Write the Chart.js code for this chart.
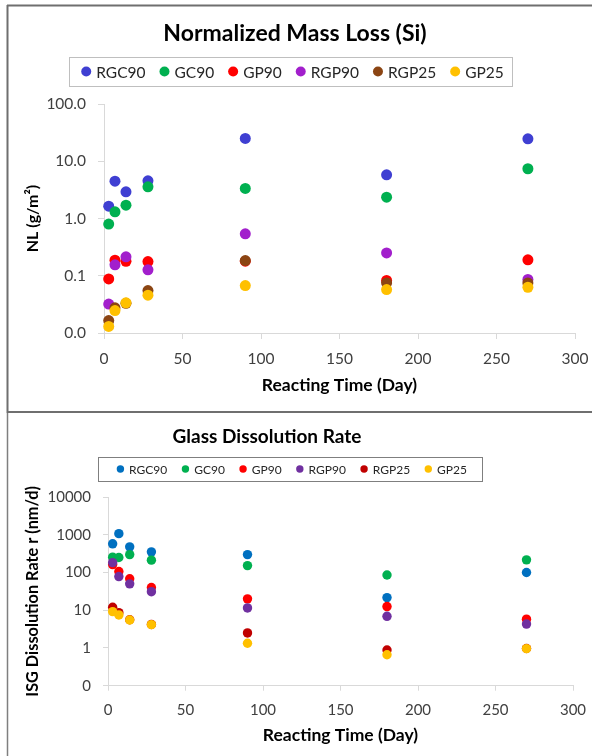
<!DOCTYPE html>
<html><head><meta charset="utf-8">
<script src="https://cdn.jsdelivr.net/npm/chart.js@4.4.1/dist/chart.umd.min.js"></script>
<style>
html,body{margin:0;padding:0;background:#fff;}
#wrap{position:relative;width:592px;height:756px;overflow:hidden;}
canvas{position:absolute;left:0;}
#c1{top:0}
#c2{top:413px}
</style></head><body>
<div id="wrap"><canvas id="c1" width="592" height="413"></canvas><canvas id="c2" width="592" height="343"></canvas></div>
<script>
const FONT = 'Lato, "Open Sans", sans-serif';

// ---------- data ----------
const days = [3, 7, 14, 28, 90, 180, 270];
const seriesNames = ['RGC90', 'GC90', 'GP90', 'RGP90', 'RGP25', 'GP25'];
const topColors = ['#3f3fd2', '#00b050', '#ff0000', '#a21fcc', '#8b4513', '#ffc000'];
const bottomColors = ['#0070c0', '#00b050', '#ff0000', '#7030a0', '#c00000', '#ffc000'];

// Normalized mass loss (g/m2)
const nlRGC90 = [1.64, 4.49, 2.93, 4.56, 25.0, 5.8, 24.7];
const nlGC90  = [0.80, 1.31, 1.71, 3.58, 3.35, 2.36, 7.4];
const nlGP90  = [0.088, 0.187, 0.179, 0.177, 0.18, 0.083, 0.19];
const nlRGP90 = [0.032, 0.155, 0.214, 0.127, 0.54, 0.25, 0.086];
const nlRGP25 = [0.0165, 0.0275, 0.033, 0.055, 0.184, 0.075, 0.075];
const nlGP25  = [0.013, 0.0247, 0.0336, 0.0457, 0.0674, 0.0574, 0.063];

// Glass dissolution rate (nm/d)
const rRGC90 = [575, 1070, 478, 352, 298, 21.6, 100];
const rGC90  = [255, 250, 298, 212, 152, 86, 216];
const rGP90  = [162, 106, 68, 40, 20, 12.5, 5.8];
const rRGP90 = [183, 78, 50, 31, 11.5, 6.9, 4.3];
const rRGP25 = [12, 8.6, 5.6, 4.2, 2.5, 0.885, 0.97];
const rGP25  = [9.2, 7.5, 5.5, 4.15, 1.33, 0.66, 0.96];

const topTickValues = [0.01, 0.1, 1, 10, 100];
const topTickLabels = ['0.0', '0.1', '1.0', '10.0', '100.0'];
const botTickValues = [0.1, 1, 10, 100, 1000, 10000];
const botTickLabels = ['0', '1', '10', '100', '1000', '10000'];
const xTickValues = [0, 50, 100, 150, 200, 250, 300];

// ---------- helpers ----------
function toPoints(arr) { return days.map((d, i) => ({x: d, y: arr[i]})); }

const deco = {
  id: 'deco',
  afterDraw(chart, args, o) {
    const ctx = chart.ctx;
    ctx.save();
    // frame
    ctx.strokeStyle = o.frameColor;
    ctx.lineWidth = o.frameWidth;
    ctx.beginPath();
    o.frame.forEach(seg => { ctx.moveTo(seg[0], seg[1]); ctx.lineTo(seg[2], seg[3]); });
    ctx.stroke();
    // title
    ctx.fillStyle = '#000';
    ctx.font = 'bold ' + o.titleSize + 'px ' + FONT;
    ctx.textAlign = 'center';
    ctx.textBaseline = 'middle';
    ctx.fillText(o.title, o.titleX, o.titleY);
    // legend
    const L = o.legend;
    ctx.strokeStyle = L.boxColor;
    ctx.lineWidth = 1;
    ctx.strokeRect(L.box[0] + 0.5, L.box[1] + 0.5, L.box[2] - L.box[0], L.box[3] - L.box[1]);
    ctx.font = L.size + 'px ' + FONT;
    const ds = chart.data.datasets;
    const widths = ds.map(d => L.r * 2 + L.gap + ctx.measureText(d.label).width);
    const total = widths.reduce((a, b) => a + b, 0) + L.spacing * (ds.length - 1);
    let x = L.center - total / 2;
    const cy = (L.box[1] + L.box[3]) / 2;
    ctx.textAlign = 'left';
    ds.forEach((d, i) => {
      ctx.fillStyle = d.backgroundColor;
      ctx.beginPath();
      ctx.arc(x + L.r, cy, L.r, 0, Math.PI * 2);
      ctx.fill();
      ctx.fillStyle = L.color;
      ctx.fillText(d.label, x + L.r * 2 + L.gap, cy + 1);
      x += widths[i] + L.spacing;
    });
    ctx.restore();
  }
};

function makeChart(id, series, colors, radius, yTicks, yLabels, yMin, yMax, yTitle, geo, decoOpts) {
  const datasets = series.map((arr, i) => ({
    label: seriesNames[i],
    data: toPoints(arr),
    order: -i,               // later series drawn on top, as in the original
    backgroundColor: colors[i],
    borderColor: colors[i],
    pointRadius: radius,
    pointHoverRadius: radius,
    pointBorderWidth: 0,
    showLine: false,
    clip: false
  }));
  const axisGrey = '#d9d9d9';
  return new Chart(document.getElementById(id), {
    type: 'scatter',
    data: {datasets},
    plugins: [deco],
    options: {
      responsive: false,
      animation: false,
      events: [],
      layout: {padding: geo.padding},
      plugins: {legend: {display: false}, title: {display: false}, tooltip: {enabled: false}, deco: decoOpts},
      scales: {
        x: {
          type: 'linear', min: 0, max: 300,
          afterBuildTicks: s => { s.ticks = xTickValues.map(v => ({value: v})); },
          afterFit: s => { s.height = geo.xHeight; s.paddingLeft = 0; s.paddingRight = 0; },
          ticks: {font: {family: FONT, size: geo.tickSize}, color: '#404040', padding: geo.xPad, autoSkip: false, maxRotation: 0},
          grid: {drawOnChartArea: false, drawTicks: true, tickLength: geo.tickLen, color: axisGrey},
          border: {color: axisGrey, width: 1},
          title: {display: true, text: 'Reacting Time (Day)', color: '#000', font: {family: FONT, size: geo.xTitleSize, weight: 'bold'}, padding: {top: 0, bottom: 0}}
        },
        y: {
          type: 'logarithmic', min: yMin, max: yMax,
          afterBuildTicks: s => { s.ticks = yTicks.map(v => ({value: v})); },
          afterFit: s => { s.width = geo.yWidth; s.paddingTop = 0; s.paddingBottom = 0; },
          ticks: {font: {family: FONT, size: geo.tickSize}, color: '#404040', padding: geo.yPad, autoSkip: false,
                  callback: v => yLabels[yTicks.indexOf(v)]},
          grid: {drawOnChartArea: false, drawTicks: true, tickLength: geo.tickLen, color: axisGrey},
          border: {color: axisGrey, width: 1},
          title: {display: true, text: yTitle, color: '#000', font: {family: FONT, size: geo.yTitleSize, weight: 'bold'}, padding: {top: 0, bottom: 0}}
        }
      }
    }
  });
}

// top chart: plot area x 104..575, y 104..333
makeChart('c1', [nlRGC90, nlGC90, nlGP90, nlRGP90, nlRGP25, nlGP25], topColors, 5.5,
  topTickValues, topTickLabels, 0.01, 100, 'NL (g/m²)',
  {padding: {left: 23.4, right: 17, top: 104, bottom: 17.5}, yWidth: 80.6, xHeight: 62.5,
   tickSize: 15.5, xTitleSize: 17.5, yTitleSize: 16, tickLen: 6, xPad: 11, yPad: 12},
  {frame: [[7.5, 5, 7.5, 413], [7, 5.5, 600, 5.5], [7, 412, 600, 412]], frameColor: '#6f6f6f', frameWidth: 2,
   title: 'Normalized Mass Loss (Si)', titleSize: 23, titleX: 295, titleY: 34,
   legend: {box: [69, 57, 512, 86], center: 292.5, boxColor: '#bfbfbf', size: 15.5, r: 5, gap: 5, spacing: 14, color: '#262626'}});

// bottom chart: plot area x 108..573, y 84..272.7 (local)
makeChart('c2', [rRGC90, rGC90, rGP90, rRGP90, rRGP25, rGP25], bottomColors, 4.7,
  botTickValues, botTickLabels, 0.1, 10000, 'ISG Dissolution Rate r (nm/d)',
  {padding: {left: 23.4, right: 19, top: 84, bottom: 10.5}, yWidth: 84.6, xHeight: 59.8,
   tickSize: 15, xTitleSize: 17.5, yTitleSize: 16.3, tickLen: 5, xPad: 10, yPad: 12},
  {frame: [[7.5, 0, 7.5, 343]], frameColor: '#7f7f7f', frameWidth: 1.5,
   title: 'Glass Dissolution Rate', titleSize: 19, titleX: 267, titleY: 24,
   legend: {box: [98, 44, 482, 68], center: 291.8, boxColor: '#7f7f7f', size: 12, r: 3.7, gap: 5, spacing: 14.5, color: '#262626'}});
</script>
</body></html>
